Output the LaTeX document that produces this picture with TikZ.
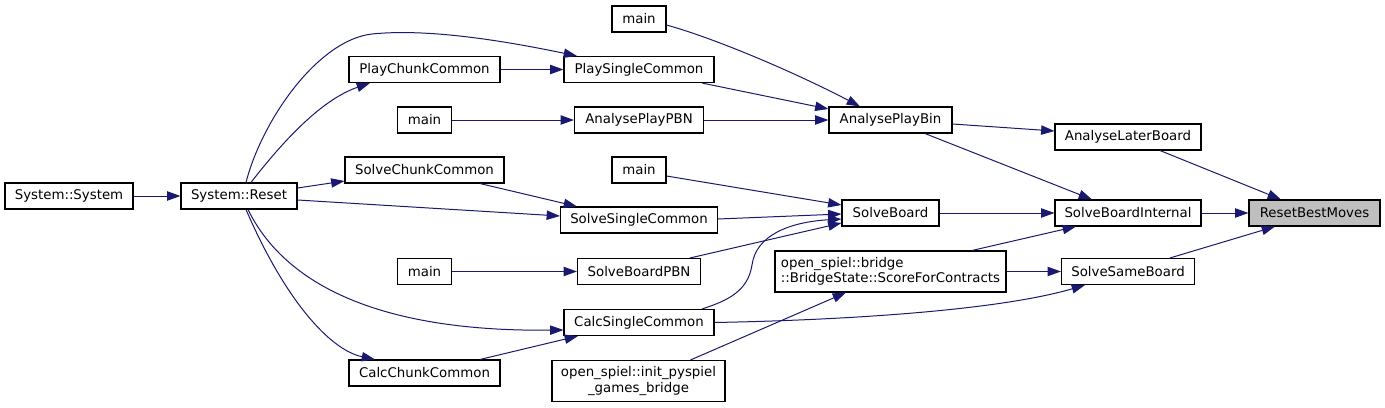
\documentclass[tikz,border=0pt]{standalone}
\usepackage{fontspec}
\setmainfont{DejaVu Sans}
\usetikzlibrary{arrows.meta,calc}
\definecolor{edgec}{RGB}{25,25,112}
\definecolor{rootfill}{RGB}{191,191,191}
\begin{document}
\begin{tikzpicture}[x=0.75pt,y=-0.75pt,
  box/.style={draw=black, line width=0.8pt, fill=white, inner sep=0pt,
    minimum height=26*0.75pt, font=\fontsize{10}{11.5}\selectfont, text=black},
  tall/.style={minimum height=41*0.75pt},
  link/.style={draw=edgec, line width=0.75pt, -{Triangle[length=10pt,width=7pt]}}]
\useasboundingbox (0,0) rectangle (1385,407);
% nodes
\node[box, minimum width=128*0.75pt] (sys) at (69,196) {System::System};
\node[box, minimum width=116*0.75pt] (reset) at (239,196) {System::Reset};
\node[box, minimum width=151*0.75pt] (pcc) at (424.5,69.5) {PlayChunkCommon};
\node[box, minimum width=54*0.75pt] (m2) at (424.5,120) {main};
\node[box, minimum width=159*0.75pt] (scc) at (424.5,170) {SolveChunkCommon};
\node[box, minimum width=54*0.75pt] (m4) at (424.5,271.5) {main};
\node[box, minimum width=151*0.75pt] (ccc) at (424.5,373) {CalcChunkCommon};
\node[box, minimum width=54*0.75pt] (m1) at (639,19) {main};
\node[box, minimum width=150*0.75pt] (psc) at (639,69.5) {PlaySingleCommon};
\node[box, minimum width=129*0.75pt] (apbn) at (639,120) {AnalysePlayPBN};
\node[box, minimum width=54*0.75pt] (m3) at (639,170) {main};
\node[box, minimum width=157*0.75pt] (ssc) at (639,220) {SolveSingleCommon};
\node[box, minimum width=123*0.75pt] (sbpbn) at (639,271.5) {SolveBoardPBN};
\node[box, minimum width=150*0.75pt] (csc) at (639,322.5) {CalcSingleCommon};
\node[box, tall, minimum width=173*0.75pt, align=center] (ips) at (638.5,381) {open\_spiel::init\_pyspiel\\\_games\_bridge};
\node[box, minimum width=123*0.75pt] (apb) at (890.5,120) {AnalysePlayBin};
\node[box, minimum width=97*0.75pt] (sb) at (890.5,213) {SolveBoard};
\node[box, tall, minimum width=231*0.75pt, align=left] (sfc) at (890.5,271.5) {open\_spiel::bridge\\::BridgeState::ScoreForContracts};
\node[box, minimum width=146*0.75pt] (alb) at (1128,137) {AnalyseLaterBoard};
\node[box, minimum width=146*0.75pt] (sbi) at (1128,213) {SolveBoardInternal};
\node[box, minimum width=133*0.75pt] (ssb) at (1128,271.5) {SolveSameBoard};
\node[box, minimum width=131*0.75pt, fill=rootfill] (rbm) at (1314.5,213) {ResetBestMoves};
% edges
\draw[link] (sys.east) -- (reset.west);
\draw[link] ($(reset.north)+(7,0)$) .. controls (262,120) and (318,40) .. (372,34)
  .. controls (430,28) and (510,42) .. ($(psc.north)+(-62,0)$);
\draw[link] ($(reset.north)+(12,0)$) .. controls (280,145) and (320,100) .. ($(pcc.south)+(-54.5,0)$);
\draw[link] ($(reset.east)+(0,-8)$) -- ($(scc.west)+(0,11)$);
\draw[link] ($(reset.east)+(0,4)$) -- ($(ssc.west)+(0,-4)$);
\draw[link] ($(reset.south)+(9,0)$) .. controls (285,285) and (380,332) .. ($(csc.west)+(0,7.5)$);
\draw[link] ($(reset.south)+(7,0)$) .. controls (285,300) and (330,350) .. ($(ccc.north)+(-49.5,0)$);
\draw[link] (pcc.east) -- (psc.west);
\draw[link] ($(psc.south)+(63,0)$) -- ($(apb.west)+(0,-11)$);
\draw[link] ($(m1.east)+(0,6)$) .. controls (720,40) and (800,75) .. ($(apb.north)+(-30.5,0)$);
\draw[link] (m2.east) -- (apbn.west);
\draw[link] (apbn.east) -- (apb.west);
\draw[link] ($(apb.east)+(0,4)$) -- ($(alb.west)+(0,-6)$);
\draw[link] ($(apb.south)+(34.5,0)$) -- ($(sbi.north)+(-36,0)$);
\draw[link] ($(alb.south)+(32,0)$) -- ($(rbm.north)+(-33.5,0)$);
\draw[link] ($(scc.south)+(55.5,0)$) -- ($(ssc.north)+(-62,0)$);
\draw[link] ($(m3.east)+(0,6)$) -- ($(sb.west)+(0,-8)$);
\draw[link] ($(ssc.east)+(0,-1)$) -- ($(sb.west)+(0,1)$);
\draw[link] ($(sbpbn.north)+(51,0)$) -- ($(sb.west)+(0,10)$);
\draw[link] ($(csc.north)+(63,0)$) .. controls (730,300) and (748,290) .. (752,265)
  .. controls (756,235) and (790,222) .. ($(sb.west)+(0,6)$);
\draw[link] (sb.east) -- (sbi.west);
\draw[link] ($(sfc.north)+(81.5,0)$) -- ($(sbi.south)+(-52,0)$);
\draw[link] (sfc.east) -- (ssb.west);
\draw[link] (sbi.east) -- (rbm.west);
\draw[link] ($(ssb.north)+(42,0)$) -- ($(rbm.south)+(-39.5,0)$);
\draw[link] (csc.east) .. controls (850,320) and (1000,310) .. ($(ssb.south)+(-43,0)$);
\draw[link] ($(ccc.north)+(55.5,0)$) -- ($(csc.south)+(-61,0)$);
\draw[link] (m4.east) -- (sbpbn.west);
\draw[link] ($(ips.north)+(52,0)$) -- ($(sfc.south)+(-44.5,0)$);
\end{tikzpicture}
\end{document}
